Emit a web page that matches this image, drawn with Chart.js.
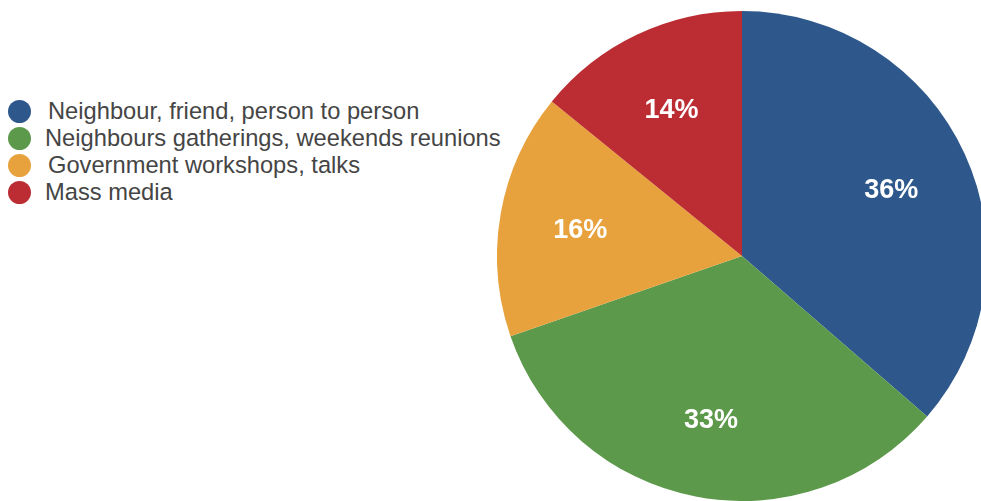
<!DOCTYPE html>
<html>
<head>
<meta charset="utf-8">
<script src="https://cdn.jsdelivr.net/npm/chart.js@4"></script>
<style>
    html, body { margin: 0; padding: 0; background: #fff; overflow: hidden; width: 981px; height: 501px; }
    #pie-wrap { position: absolute; left: 497px; top: 11px; width: 490px; height: 490px; }
    #legend { position: absolute; left: 8px; top: 98px; margin: 0; padding: 0; list-style: none;
        font-family: "Liberation Sans", Arial, sans-serif; font-size: 23.7px; color: #454545; }
    #legend li { display: flex; align-items: center; height: 27px; white-space: nowrap; }
    #legend .dot { width: 23px; height: 23px; border-radius: 50%; flex: none; }
    #legend li:nth-child(odd) .txt { margin-left: 17px; }
    #legend li:nth-child(even) .txt { margin-left: 14px; }
</style>
</head>
<body>
<ul id="legend"></ul>
<div id="pie-wrap"><canvas id="pie"></canvas></div>
<script>
const categories = [
    'Neighbour, friend, person to person',
    'Neighbours gatherings, weekends reunions',
    'Government workshops, talks',
    'Mass media'
];
const shares = [36, 33, 16, 14];
const sliceColors = ['#2E588C', '#5D994B', '#E8A23D', '#BB2D33'];

// white percentage text drawn inside each slice
const sliceLabels = {
    id: 'sliceLabels',
    afterDatasetsDraw(chart) {
        const ctx = chart.ctx;
        const meta = chart.getDatasetMeta(0);
        ctx.save();
        ctx.fillStyle = '#fff';
        ctx.font = 'bold 27px "Liberation Sans", Arial, sans-serif';
        ctx.textAlign = 'center';
        ctx.textBaseline = 'middle';
        meta.data.forEach((arc, i) => {
            const { x, y, startAngle, endAngle, outerRadius } = arc.getProps(['x', 'y', 'startAngle', 'endAngle', 'outerRadius'], true);
            const mid = (startAngle + endAngle) / 2;
            const r = outerRadius * 0.67;
            // nudge down a little so the digits sit optically centred
            ctx.fillText(shares[i] + '%', x + Math.cos(mid) * r, y + Math.sin(mid) * r + 3);
        });
        ctx.restore();
    }
};

const chart = new Chart(document.getElementById('pie'), {
    type: 'pie',
    data: {
        labels: categories,
        datasets: [{
            data: shares,
            backgroundColor: sliceColors,
            borderWidth: 0
        }]
    },
    options: {
        responsive: true,
        maintainAspectRatio: false,
        animation: false,
        layout: { padding: 0 },
        plugins: {
            legend: { display: false },
            tooltip: { enabled: false }
        }
    },
    plugins: [sliceLabels]
});

// legend on the left, built from the chart's own labels and colours
const legendEl = document.getElementById('legend');
chart.data.labels.forEach((label, i) => {
    const li = document.createElement('li');
    const dot = document.createElement('span');
    dot.className = 'dot';
    dot.style.background = chart.data.datasets[0].backgroundColor[i];
    const txt = document.createElement('span');
    txt.className = 'txt';
    txt.textContent = label;
    li.appendChild(dot);
    li.appendChild(txt);
    legendEl.appendChild(li);
});
</script>
</body>
</html>
